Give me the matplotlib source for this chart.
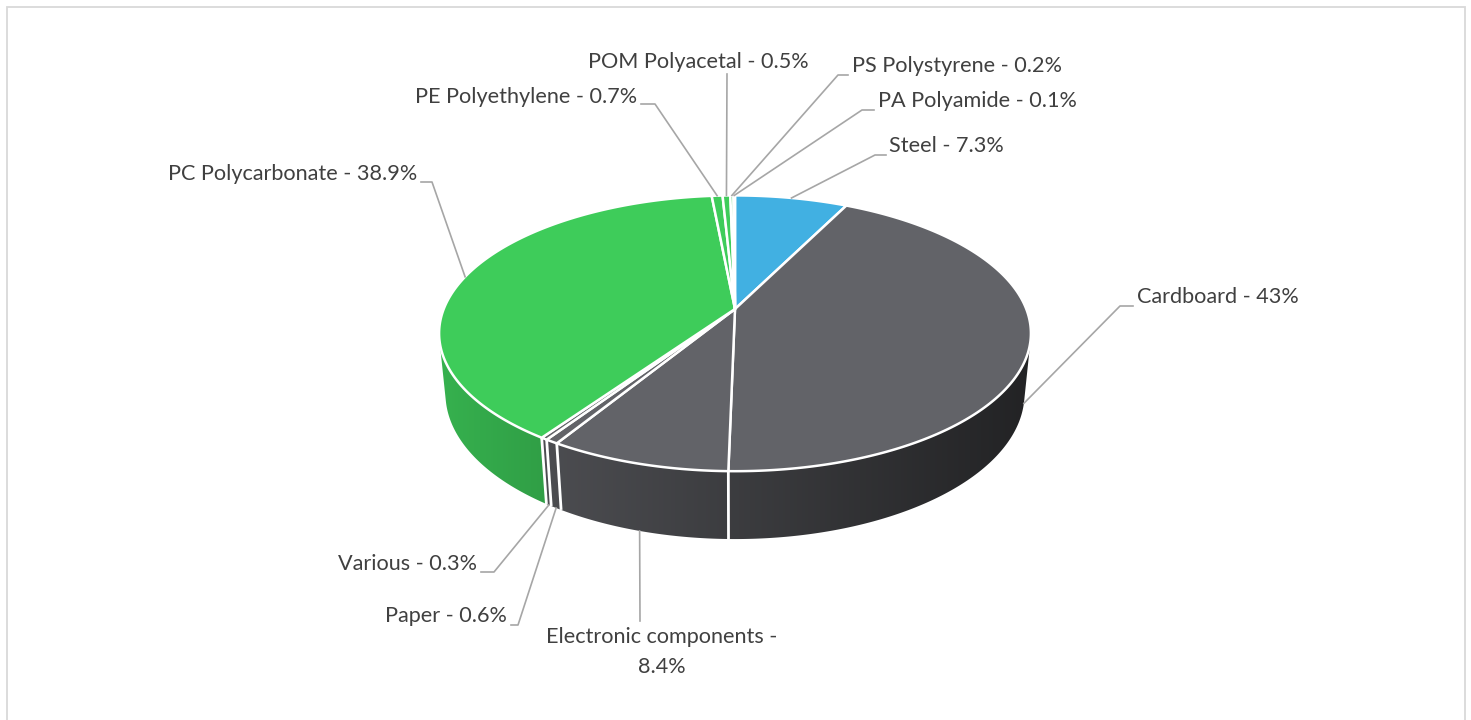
import numpy as np
import matplotlib.pyplot as plt
from matplotlib.patches import Polygon, Rectangle
from matplotlib.colors import to_rgb

# data, clockwise from 12 o'clock
names = ["Steel", "Cardboard", "Electronic components", "Paper", "Various",
         "PC Polycarbonate", "PE Polyethylene", "POM Polyacetal",
         "PS Polystyrene", "PA Polyamide"]
values = [7.3, 43, 8.4, 0.6, 0.3, 38.9, 0.7, 0.5, 0.2, 0.1]
colors = ["#41b0e2", "#626368", "#626368", "#626368", "#626368",
          "#3ecc5a", "#3ecc5a", "#3ecc5a", "#3ecc5a", "#3ecc5a"]

# label layout (pixels): text anchor, alignment, leader points near the text
txt_pos = [(889, 146, 'left'), (1137, 297, 'left'), (662, 652, 'center'),
           (507, 616, 'right'), (477, 564, 'right'), (417, 174, 'right'),
           (637, 97, 'right'), (698, 62, 'center'), (852, 66, 'left'),
           (878, 101, 'left')]
lead_pts = [[(886, 155), (875, 155)], [(1133, 306), (1120, 306)], [(640, 621)],
            [(511, 625), (518, 625)], [(481, 572), (494, 572)],
            [(421, 182), (432, 182)], [(641, 104), (655, 104)], [(727, 74)],
            [(848, 75), (838, 75)], [(874, 110), (862, 110)]]

# perspective 3d pie camera
cx, cy = 735, 309
k = 1468
alpha = np.radians(27.3)
D = 5.04
thick = 0.235
ca, sa = np.cos(alpha), np.sin(alpha)

def proj(th, z):
    th = np.radians(th)
    X = np.sin(th)
    Y = np.cos(th)
    depth = D + Y*ca - z*sa
    return cx + k*X/depth, cy - k*(Y*sa + z*ca)/depth

th_s = np.degrees(np.arccos(-1/(D*ca)))  # silhouette angle

fig = plt.figure(figsize=(14.71, 7.2), dpi=100)
ax = fig.add_axes([0, 0, 1, 1])

cum = np.concatenate([[0], np.cumsum(values)])/np.sum(values)*360

# side walls, shaded left->right with a clipped gradient
for i in range(len(values)):
    lo = max(cum[i], th_s)
    hi = min(cum[i+1], 360-th_s)
    if hi <= lo:
        continue
    ths = np.linspace(lo, hi, max(3, int((hi-lo)/0.5)))
    pts = [proj(a, 0) for a in ths] + [proj(a, -thick) for a in ths[::-1]]
    poly = Polygon(pts, closed=True, fc='none', ec='none')
    ax.add_patch(poly)
    xs = np.array([p[0] for p in pts])
    ys = np.array([p[1] for p in pts])
    gx = np.linspace(xs.min(), xs.max(), 200)
    nx = np.clip((gx - cx)/296, -1, 1)
    f = np.clip(0.61 - 0.26*nx, 0, 1)
    img = np.array(to_rgb(colors[i]))[None, None, :]*f[None, :, None]
    im = ax.imshow(img, extent=(xs.min()-1, xs.max()+1, ys.max()+1, ys.min()-1),
                   aspect='auto', interpolation='bilinear')
    im.set_clip_path(poly)

for a in cum:
    if th_s < a < 360-th_s:
        x0, y0 = proj(a, 0)
        x1, y1 = proj(a, -thick)
        ax.plot([x0, x1], [y0, y1], color='white', lw=2, solid_capstyle='butt')

# top faces
for i in range(len(values)):
    n = max(2, int((cum[i+1]-cum[i])/0.5))
    ths = np.linspace(cum[i], cum[i+1], n+1)
    pts = [(cx, cy)] + [proj(a, 0) for a in ths]
    ax.add_patch(Polygon(pts, closed=True, fc=colors[i], ec='white', lw=1.8, joinstyle='round'))

# labels and leader lines
for i in range(len(values)):
    s = f"{names[i]} - {values[i]:g}%"
    if names[i] == "Electronic components":
        s = f"{names[i]} -\n{values[i]:g}%"
    x, y, ha = txt_pos[i]
    ax.text(x, y, s, ha=ha, va='center', fontsize=15.6, color='#404040',
            family='Lato', linespacing=1.6, multialignment='center')
    m = (cum[i] + cum[i+1])/2
    if th_s <= m <= 360-th_s:
        anc = proj(m, -thick)
    else:
        anc = proj(m, 0)
    pts = lead_pts[i] + [anc]
    ax.plot([p[0] for p in pts], [p[1] for p in pts], color='#a6a6a6', lw=1.2)

ax.set_xlim(0, 1471)
ax.set_ylim(720, 0)
ax.set_aspect('auto')
ax.axis('off')

fig.add_artist(Rectangle((7/1471, -0.05), (1465-7)/1471, 1 - 7/720 + 0.05,
                         transform=fig.transFigure, fill=False, ec='#d9d9d9', lw=1.3))

plt.savefig("out.png", dpi=100)
